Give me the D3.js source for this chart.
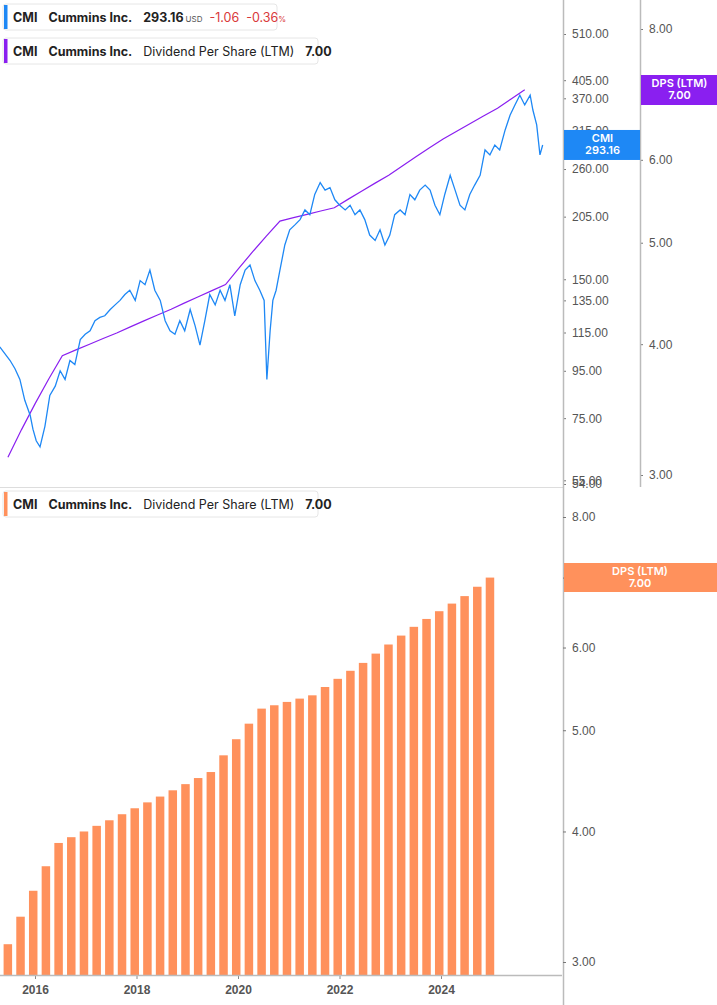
<!DOCTYPE html>
<html>
<head>
<meta charset="utf-8">
<title>CMI price and dividend per share</title>
<script src="https://cdn.jsdelivr.net/npm/d3@7"></script>
<style>
  body { margin: 0; background: #fff; font-family: Inter, "Noto Sans", sans-serif; }
  svg { display: block; }
  .tick text { fill: #555; font-size: 12px; }
</style>
</head>
<body>
<svg id="chart" width="717" height="1005"></svg>
<script>
// price trace (decimal year, USD)
var priceYears = [2015.31,2015.50,2015.59,2015.68,2015.77,2015.87,2015.92,2015.98,2016.05,2016.14,2016.23,2016.33,2016.42,2016.51,2016.60,2016.69,2016.79,2016.88,2016.97,2017.06,2017.15,2017.24,2017.34,2017.43,2017.52,2017.61,2017.70,2017.80,2017.89,2017.98,2018.07,2018.16,2018.26,2018.35,2018.44,2018.53,2018.62,2018.71,2018.81,2018.90,2018.99,2019.08,2019.17,2019.27,2019.36,2019.45,2019.54,2019.63,2019.73,2019.82,2019.91,2020.00,2020.09,2020.17,2020.22,2020.28,2020.33,2020.39,2020.46,2020.55,2020.64,2020.74,2020.83,2020.92,2021.01,2021.10,2021.20,2021.29,2021.38,2021.47,2021.56,2021.66,2021.75,2021.84,2021.93,2022.02,2022.11,2022.21,2022.30,2022.39,2022.48,2022.57,2022.67,2022.76,2022.85,2022.94,2023.03,2023.13,2023.22,2023.31,2023.40,2023.49,2023.59,2023.68,2023.77,2023.86,2023.95,2024.04,2024.14,2024.23,2024.32,2024.41,2024.50,2024.60,2024.69,2024.78,2024.87,2024.96,2025.06,2025.11,2025.18,2025.24,2025.29];
var prices = [107,100,96,91,82,76,71,67,65,72,84,88,95,91,100,98,111,114,116,122,124,125,129,132,135,139,142,135,149,146,157,142,135,122,116,114,122,116,129,119,108,122,139,132,142,135,146,125,146,157,161,149,142,135,91,116,135,142,157,178,192,197,202,212,207,229,243,234,237,223,217,212,217,207,212,202,187,182,192,178,187,207,212,207,229,223,234,240,234,217,207,229,252,234,217,212,229,240,252,286,279,293,286,316,340,358,376,358,376,349,324,279,293.16];

// dividend per share, last twelve months, quarterly
var dpsYears = d3.range(39).map(function(i){ return 2015.46 + i * 0.25; });
var dps = [3.12,3.315,3.51,3.705,3.90,3.95,4.00,4.05,4.10,4.155,4.21,4.265,4.32,4.38,4.44,4.50,4.56,4.731,4.902,5.073,5.244,5.283,5.322,5.361,5.40,5.50,5.60,5.70,5.80,5.92,6.04,6.16,6.28,6.39,6.50,6.61,6.72,6.86,7.00];

var priceTicks = [510,405,370,315,260,205,150,135,115,95,75,55,54];
var dpsTicks = [8,7,6,5,4,3];
var yearTicks = [2016,2018,2020,2022,2024];

var svg = d3.select('#chart');
var BLUE = '#1e88f5', PURPLE = '#8a1ff0', ORANGE = '#ff915c', AXIS = '#bbb';

// scales
var xTop = d3.scaleLinear().domain([2016, 2025]).range([37.3, 37.3 + 9 * 54.4]);
var yPrice = d3.scaleLog().domain([510, 54]).range([34, 484]);
var yDpsTop = d3.scaleLog().domain([8, 3]).range([29, 475]);
var xBot = d3.scaleLinear().domain([2016, 2024]).range([35, 441]);
var yDpsBot = d3.scaleLog().domain([8, 3]).range([517, 962]);
var BASE = 975;

// top panel
var topPanel = svg.append('g');
topPanel.append('path')
  .datum(d3.zip(dpsYears, dps))
  .attr('fill', 'none').attr('stroke', PURPLE).attr('stroke-width', 1.2)
  .attr('d', d3.line().x(function(d){ return xTop(d[0]); }).y(function(d){ return yDpsTop(d[1]); }));
topPanel.append('path')
  .datum(d3.zip(priceYears, prices))
  .attr('fill', 'none').attr('stroke', BLUE).attr('stroke-width', 1.3)
  .attr('d', d3.line().x(function(d){ return xTop(d[0]); }).y(function(d){ return yPrice(d[1]); }));

svg.append('line').attr('x1', 0).attr('x2', 563).attr('y1', 487.5).attr('y2', 487.5).attr('stroke', '#ddd');

var ax1 = svg.append('g').attr('transform', 'translate(563,0)')
  .call(d3.axisRight(yPrice).tickValues(priceTicks).tickSize(3).tickPadding(6).tickFormat(d3.format('.2f')));
ax1.select('.domain').remove();
ax1.selectAll('.tick line').attr('stroke', '#777');
svg.append('line').attr('x1', 563.5).attr('x2', 563.5).attr('y1', 0).attr('y2', 1005).attr('stroke', AXIS).attr('stroke-width', 1.5);

var ax2 = svg.append('g').attr('transform', 'translate(640,0)')
  .call(d3.axisRight(yDpsTop).tickValues(dpsTicks).tickSize(3).tickPadding(6).tickFormat(d3.format('.2f')));
ax2.select('.domain').remove();
ax2.selectAll('.tick line').attr('stroke', '#777');
svg.append('line').attr('x1', 640.5).attr('x2', 640.5).attr('y1', 0).attr('y2', 487).attr('stroke', AXIS).attr('stroke-width', 1.5);

function valueTag(x, w, yc, color, l1, l2) {
  var g = svg.append('g');
  g.append('rect').attr('x', x).attr('y', yc - 15).attr('width', w).attr('height', 30).attr('fill', color);
  g.append('text').attr('x', x + 38.5).attr('y', yc - 3).attr('text-anchor', 'middle')
    .attr('fill', '#fff').attr('font-size', 11).attr('font-weight', 600).text(l1);
  g.append('text').attr('x', x + 38.5).attr('y', yc + 9).attr('text-anchor', 'middle')
    .attr('fill', '#fff').attr('font-size', 11).attr('font-weight', 600).text(l2);
}
valueTag(564, 76, yPrice(prices[prices.length - 1]), BLUE, 'CMI', '293.16');
valueTag(641, 76, 90, PURPLE, 'DPS (LTM)', '7.00');

// bottom panel
svg.append('g').selectAll('rect').data(d3.zip(dpsYears, dps)).join('rect')
  .attr('x', function(d){ return xBot(d[0]) - 4; })
  .attr('width', 8.5)
  .attr('y', function(d){ return yDpsBot(d[1]); })
  .attr('height', function(d){ return BASE - yDpsBot(d[1]); })
  .attr('fill', ORANGE);

var ax3 = svg.append('g').attr('transform', 'translate(563,0)')
  .call(d3.axisRight(yDpsBot).tickValues(dpsTicks).tickSize(3).tickPadding(6).tickFormat(d3.format('.2f')));
ax3.select('.domain').remove();
ax3.selectAll('.tick line').attr('stroke', '#777');

var ax4 = svg.append('g').attr('transform', 'translate(0,' + BASE + ')')
  .call(d3.axisBottom(xBot).tickValues(yearTicks).tickSize(4).tickPadding(6).tickFormat(d3.format('d')));
ax4.select('.domain').remove();
ax4.selectAll('.tick line').attr('stroke', '#888');
ax4.selectAll('.tick text').attr('font-weight', 700).attr('fill', '#666').attr('font-size', 12);
svg.append('line').attr('x1', 0).attr('x2', 562).attr('y1', BASE + 0.5).attr('y2', BASE + 0.5).attr('stroke', AXIS).attr('stroke-width', 1.5);

var tg = svg.append('g');
tg.append('rect').attr('x', 564).attr('y', 563).attr('width', 153).attr('height', 29).attr('fill', ORANGE);
tg.append('text').attr('x', 640).attr('y', 575).attr('text-anchor', 'middle').attr('fill', '#fff').attr('font-size', 11).attr('font-weight', 600).text('DPS (LTM)');
tg.append('text').attr('x', 640).attr('y', 587).attr('text-anchor', 'middle').attr('fill', '#fff').attr('font-size', 11).attr('font-weight', 600).text('7.00');

// legends
function legend(y, w, color, parts) {
  var g = svg.append('g').attr('transform', 'translate(3,' + y + ')');
  g.append('rect').attr('width', w).attr('height', 26).attr('rx', 3).attr('fill', '#fff').attr('stroke', '#e6e6e6');
  g.append('rect').attr('x', 1).attr('y', 1).attr('width', 3.5).attr('height', 24).attr('fill', color);
  var t = g.append('text').attr('x', 10).attr('y', 17.5).attr('font-size', 12.5).attr('fill', '#222');
  parts.forEach(function(p){
    var s = t.append('tspan').text(p.t);
    if (p.dx) s.attr('dx', p.dx);
    if (p.w) s.attr('font-weight', p.w);
    if (p.c) s.attr('fill', p.c);
    if (p.s) s.attr('font-size', p.s);
  });
}
legend(4, 274, BLUE, [
  {t: 'CMI', w: 700}, {t: 'Cummins Inc.', w: 700, dx: 11}, {t: '293.16', w: 700, dx: 11},
  {t: 'USD', s: 8, c: '#555', dx: 2}, {t: '-1.06', c: '#d9383a', dx: 7}, {t: '-0.36', c: '#d9383a', dx: 7}, {t: '%', c: '#d9383a', s: 8}
]);
legend(38, 315, PURPLE, [
  {t: 'CMI', w: 700}, {t: 'Cummins Inc.', w: 700, dx: 11}, {t: 'Dividend Per Share (LTM)', dx: 11}, {t: '7.00', w: 700, dx: 11}
]);
legend(491, 315, ORANGE, [
  {t: 'CMI', w: 700}, {t: 'Cummins Inc.', w: 700, dx: 11}, {t: 'Dividend Per Share (LTM)', dx: 11}, {t: '7.00', w: 700, dx: 11}
]);
</script>
</body>
</html>
